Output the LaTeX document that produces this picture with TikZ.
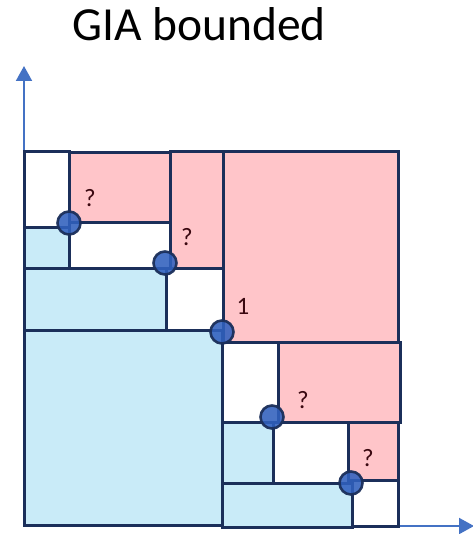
\documentclass[tikz,border=0pt]{standalone}
\usepackage{fontspec}
\setmainfont{Carlito}
\usetikzlibrary{arrows.meta}
\definecolor{edge}{HTML}{1B2F5A}
\definecolor{pinkf}{HTML}{FFC5C9}
\definecolor{bluef}{HTML}{C9EBF8}
\definecolor{axisc}{HTML}{4472C4}
\definecolor{dotc}{HTML}{3060BE}
\definecolor{labc}{HTML}{3A0810}
\tikzset{
  box/.style={draw=edge, line width=3pt},
  pinkbox/.style={box, fill=pinkf},
  bluebox/.style={box, fill=bluef},
  whitebox/.style={box, fill=white},
  dot/.style={circle, draw=edge, line width=2.6pt, fill=dotc, fill opacity=0.88, draw opacity=0.95, minimum size=23pt, inner sep=0pt},
  lab/.style={text=labc, font=\fontsize{25}{25}\selectfont, inner sep=0pt},
  axis/.style={draw=axisc, line width=2pt, -{Triangle[length=15pt, width=16pt]}}
}
\begin{document}
\begin{tikzpicture}[x=1pt, y=-1pt]
\useasboundingbox (0,0) rectangle (472,534);
% title
\node[anchor=base west, inner sep=0pt, font=\fontsize{47.5}{47.5}\selectfont] (title) at (72,41) {GIA bounded};
% axes
\coordinate (o) at (24,526);
\coordinate (ytip) at (24,66);
\coordinate (xtip) at (474,526);
\draw[axis] (o) -- (ytip);
\draw[axis] (o) -- (xtip);
% rectangles
\draw[whitebox] (24,152) rectangle (69,227);
\draw[pinkbox] (69,153) rectangle (170,223);
\draw[pinkbox] (170,152) rectangle (223,268);
\draw[pinkbox] (223,152) rectangle (398,342);
\draw[bluebox] (24,227) rectangle (69,268);
\draw[whitebox] (69,223) rectangle (170,268);
\draw[bluebox] (24,268) rectangle (166,330);
\draw[whitebox] (166,268) rectangle (223,330);
\draw[bluebox] (24,330) rectangle (222,525);
\draw[whitebox] (222,342) rectangle (278,422);
\draw[pinkbox] (278,342) rectangle (400,422);
\draw[bluebox] (222,422) rectangle (273,483);
\draw[whitebox] (273,422) rectangle (348,483);
\draw[pinkbox] (348,422) rectangle (398,480);
\draw[bluebox] (222,483) rectangle (352,527);
\draw[whitebox] (352,480) rectangle (398,526);
% dots
\node[dot] (d1) at (69,223) {};
\node[dot] (d2) at (165,263) {};
\node[dot] (d3) at (222,332) {};
\node[dot] (d4) at (272,417) {};
\node[dot] (d5) at (351,483) {};
% labels
\node[lab] (l1) at (90,198) {?};
\node[lab] (l2) at (187,237) {?};
\node[lab] (l3) at (243,306) {1};
\node[lab] (l4) at (303,400) {?};
\node[lab] (l5) at (368,458) {?};
\end{tikzpicture}
\end{document}
